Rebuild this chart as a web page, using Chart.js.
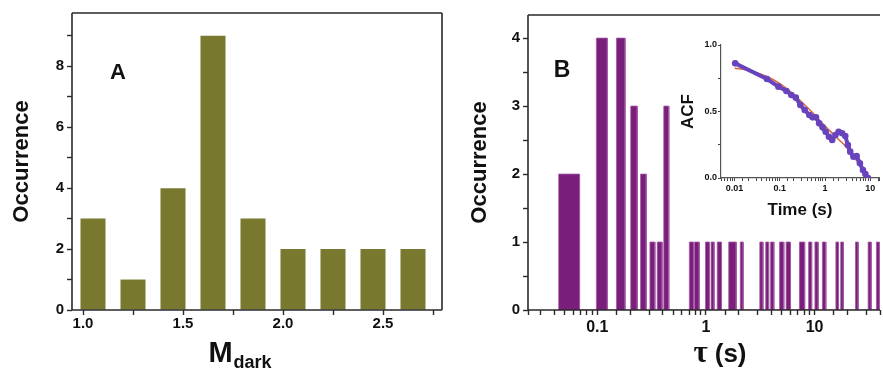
<!DOCTYPE html>
<html>
<head>
<meta charset="utf-8">
<script src="https://cdn.jsdelivr.net/npm/chart.js@4.4.1/dist/chart.umd.min.js"></script>
<style>
html, body { margin: 0; padding: 0; background: #fff; }
#wrap { position: relative; width: 883px; height: 370px; overflow: hidden; }
canvas { position: absolute; }
#chartA { left: 0; top: 0; }
#chartB { left: 450px; top: 0; }
#inset { left: 660px; top: 30px; }
</style>
</head>
<body>
<div id="wrap">
  <canvas id="chartA" width="450" height="370"></canvas>
  <canvas id="chartB" width="433" height="370"></canvas>
  <canvas id="inset" width="223" height="195"></canvas>
</div>
<script>
// panel A : M_dark histogram
const mdarkBins = [1.05, 1.25, 1.45, 1.65, 1.85, 2.05, 2.25, 2.45, 2.65];
const mdarkCounts = [3, 1, 4, 9, 3, 2, 2, 2, 2];

// panel B : dark time histogram (bin edges in s)
const tauStart = [0.044, 0.098, 0.150, 0.203, 0.250, 0.305, 0.356, 0.409,
  0.703, 0.785, 0.99, 1.115, 1.27, 1.62, 2.07, 3.13, 3.55, 3.94, 4.76, 5.47,
  7.25, 8.81, 10.07, 11.8, 15.7, 17.4, 23.8, 31.1, 37.1];
const tauEnd = [0.0686, 0.1236, 0.180, 0.233, 0.282, 0.339, 0.395, 0.455,
  0.769, 0.867, 1.076, 1.188, 1.39, 1.90, 2.20, 3.35, 3.78, 4.22, 5.21, 6.0,
  8.1, 9.4, 10.8, 12.7, 16.6, 18.4, 25.2, 33.2, 39.5];
const tauCounts = [2, 4, 4, 3, 2, 1, 1, 3,
  1, 1, 1, 1, 1, 1, 1, 1, 1, 1, 1, 1,
  1, 1, 1, 1, 1, 1, 1, 1, 1];

// inset : ACF and fit
const acfTime = [0.0103, 0.052, 0.093, 0.14, 0.18, 0.226, 0.284, 0.355, 0.45, 0.53,
  0.63, 0.74, 0.88, 1.03, 1.22, 1.44, 1.7, 2.0, 2.38, 2.8, 3.2, 3.6, 4.24, 5.0,
  5.9, 6.9, 7.8, 8.9];
const acfValues = [0.862, 0.744, 0.687, 0.654, 0.624, 0.604, 0.549, 0.511, 0.474, 0.456,
  0.456, 0.411, 0.381, 0.348, 0.31, 0.286, 0.323, 0.348, 0.336, 0.316, 0.248, 0.198, 0.16, 0.165,
  0.11, 0.06, 0.03, 0.0];
const fitTime = [0.01, 0.02, 0.05, 0.1, 0.2, 0.5, 1, 2, 3, 5, 8, 10];
const fitValues = [0.825, 0.81, 0.765, 0.71, 0.63, 0.5, 0.39, 0.29, 0.23, 0.13, 0.03, 0.0];

const SANS = "'Liberation Sans', Arial, sans-serif";
Chart.defaults.font.family = SANS;
Chart.defaults.font.weight = 'bold';
Chart.defaults.color = '#111';
Chart.defaults.animation = false;

const isDecade = v => Math.abs(Math.log10(v) - Math.round(Math.log10(v))) < 1e-6;

// box lines round the plot area
const frame = {
  id: 'frame',
  afterDatasetsDraw(chart, args, opts) {
    const { ctx, chartArea: a } = chart;
    const s = opts.sides || [];
    ctx.save();
    ctx.strokeStyle = opts.color || '#2a2a2a';
    ctx.lineWidth = opts.width || 1.6;
    ctx.beginPath();
    if (s.includes('top')) { ctx.moveTo(a.left, a.top); ctx.lineTo(a.right, a.top); }
    if (s.includes('right')) { ctx.moveTo(a.right, a.top); ctx.lineTo(a.right, a.bottom); }
    if (s.includes('bottom')) { ctx.moveTo(a.left, a.bottom); ctx.lineTo(a.right, a.bottom); }
    if (s.includes('left')) { ctx.moveTo(a.left, a.top); ctx.lineTo(a.left, a.bottom); }
    ctx.stroke();
    ctx.restore();
  }
};

// free text: panel letters and titles with mixed fonts
const notes = {
  id: 'notes',
  afterDraw(chart, args, opts) {
    const ctx = chart.ctx;
    (opts.items || []).forEach(it => {
      ctx.save();
      ctx.fillStyle = '#111';
      ctx.textBaseline = 'alphabetic';
      ctx.textAlign = 'left';
      let total = 0;
      it.runs.forEach(r => { ctx.font = r.font; total += ctx.measureText(r.text).width + (r.gap || 0); });
      let x = it.x - total / 2;
      it.runs.forEach(r => {
        ctx.font = r.font;
        ctx.fillText(r.text, x, it.y + (r.dy || 0));
        x += ctx.measureText(r.text).width + (r.gap || 0);
      });
      ctx.restore();
    });
  }
};

const tickGrid = { drawOnChartArea: false, drawTicks: true, tickLength: 5, tickColor: '#2a2a2a', tickWidth: 1.4 };

// ---- panel A
new Chart(document.getElementById('chartA'), {
  type: 'bar',
  data: {
    datasets: [{
      data: mdarkBins.map((x, i) => ({ x: x, y: mdarkCounts[i] })),
      backgroundColor: '#78792e',
      borderWidth: 0,
      barPercentage: 0.625,
      categoryPercentage: 1
    }]
  },
  options: {
    responsive: false,
    layout: { padding: { left: 0, top: 13, right: 8, bottom: 0 } },
    plugins: {
      legend: { display: false },
      tooltip: { enabled: false },
      frame: { sides: ['top', 'right', 'bottom', 'left'] },
      notes: {
        items: [
          { x: 118, y: 79, runs: [{ text: 'A', font: 'bold 22px ' + SANS }] },
          { x: 240, y: 362, runs: [
            { text: 'M', font: 'bold 29px ' + SANS, gap: 1 },
            { text: 'dark', font: 'bold 18px ' + SANS, dy: 6 }
          ] }
        ]
      }
    },
    scales: {
      x: {
        type: 'linear', min: 0.945, max: 2.795, offset: false,
        grid: { ...tickGrid, offset: false },
        border: { display: false },
        ticks: {
          stepSize: 0.25, includeBounds: false, autoSkip: false, maxRotation: 0, padding: 0,
          font: { size: 15, weight: 'bold' },
          callback: v => Math.abs(v * 2 - Math.round(v * 2)) < 1e-6 ? v.toFixed(1) : ''
        },
        afterFit: s => { s.height = 60; }
      },
      y: {
        min: 0, max: 9.75,
        grid: tickGrid,
        border: { display: false },
        ticks: {
          stepSize: 1, includeBounds: false, padding: 3,
          font: { size: 15, weight: 'bold' },
          callback: v => v % 2 === 0 ? v : ''
        },
        title: { display: true, text: 'Occurrence', font: { size: 22, weight: 'bold' }, padding: { top: 9 } },
        afterFit: s => { s.width = 72; }
      }
    }
  },
  plugins: [frame, notes]
});

// ---- panel B
const histPoints = [];
tauStart.forEach((s, i) => {
  histPoints.push({ x: s, y: 0 }, { x: s, y: tauCounts[i] }, { x: tauEnd[i], y: tauCounts[i] }, { x: tauEnd[i], y: 0 });
});

new Chart(document.getElementById('chartB'), {
  type: 'line',
  data: {
    datasets: [{
      data: histPoints,
      fill: 'origin',
      backgroundColor: '#7a1e7b',
      borderColor: '#a25aa3',
      borderWidth: 0.8,
      pointRadius: 0,
      tension: 0
    }]
  },
  options: {
    responsive: false,
    layout: { padding: { left: 0, top: 15, right: 0, bottom: 0 } },
    plugins: {
      legend: { display: false },
      tooltip: { enabled: false },
      frame: { sides: ['top', 'bottom', 'left'] },
      notes: {
        items: [
          { x: 112, y: 77, runs: [{ text: 'B', font: 'bold 23px ' + SANS }] },
          { x: 270, y: 362, runs: [
            { text: 'τ', font: 'bold 31px "Liberation Serif", "DejaVu Serif", serif', gap: 7 },
            { text: '(s)', font: 'bold 26px ' + SANS }
          ] }
        ]
      }
    },
    scales: {
      x: {
        type: 'logarithmic', min: 0.023, max: 40,
        grid: tickGrid,
        border: { display: false },
        ticks: {
          autoSkip: false, maxRotation: 0, padding: 3,
          font: { size: 16, weight: 'bold' },
          callback: v => isDecade(v) ? String(v) : ''
        },
        afterFit: s => { s.height = 60; }
      },
      y: {
        min: 0, max: 4.34,
        grid: tickGrid,
        border: { display: false },
        ticks: {
          stepSize: 0.5, includeBounds: false, padding: 3,
          font: { size: 15, weight: 'bold' },
          callback: v => Number.isInteger(v) ? v : ''
        },
        title: { display: true, text: 'Occurrence', font: { size: 22, weight: 'bold' }, padding: { top: 17 } },
        afterFit: s => { s.width = 78; }
      }
    }
  },
  plugins: [frame, notes]
});

// ---- inset
const smallGrid = { drawOnChartArea: false, drawTicks: true, tickLength: 3, tickColor: '#444', tickWidth: 1 };

new Chart(document.getElementById('inset'), {
  type: 'line',
  data: {
    datasets: [
      {
        data: acfTime.map((t, i) => ({ x: t, y: acfValues[i] })),
        borderColor: '#6744bd',
        backgroundColor: '#6744bd',
        borderWidth: 4,
        pointRadius: 3.3,
        pointBorderWidth: 0,
        tension: 0
      },
      {
        data: fitTime.map((t, i) => ({ x: t, y: fitValues[i] })),
        borderColor: '#d8643e',
        borderWidth: 1.5,
        pointRadius: 0,
        cubicInterpolationMode: 'monotone'
      }
    ]
  },
  options: {
    responsive: false,
    layout: { padding: { left: 0, top: 15, right: 0, bottom: 0 } },
    plugins: { legend: { display: false }, tooltip: { enabled: false } },
    scales: {
      x: {
        type: 'logarithmic', min: 0.005, max: 15.6,
        grid: smallGrid,
        border: { color: '#555', width: 1.2 },
        ticks: {
          autoSkip: false, maxRotation: 0, padding: 2,
          font: { size: 9, weight: 'bold' },
          callback: v => isDecade(v) ? String(v) : ''
        },
        title: { display: true, text: 'Time (s)', font: { size: 17, weight: 'bold' }, padding: { bottom: 4 } },
        afterFit: s => { s.height = 47; }
      },
      y: {
        min: 0, max: 1,
        grid: smallGrid,
        border: { color: '#555', width: 1.2 },
        ticks: {
          stepSize: 0.25, includeBounds: false, padding: 1,
          font: { size: 9, weight: 'bold' },
          callback: v => Math.abs(v * 2 - Math.round(v * 2)) < 1e-6 ? v.toFixed(1) : ''
        },
        title: { display: true, text: 'ACF', font: { size: 17, weight: 'bold' }, padding: { top: 18 } },
        afterFit: s => { s.width = 61; }
      }
    }
  }
});
</script>
</body>
</html>
